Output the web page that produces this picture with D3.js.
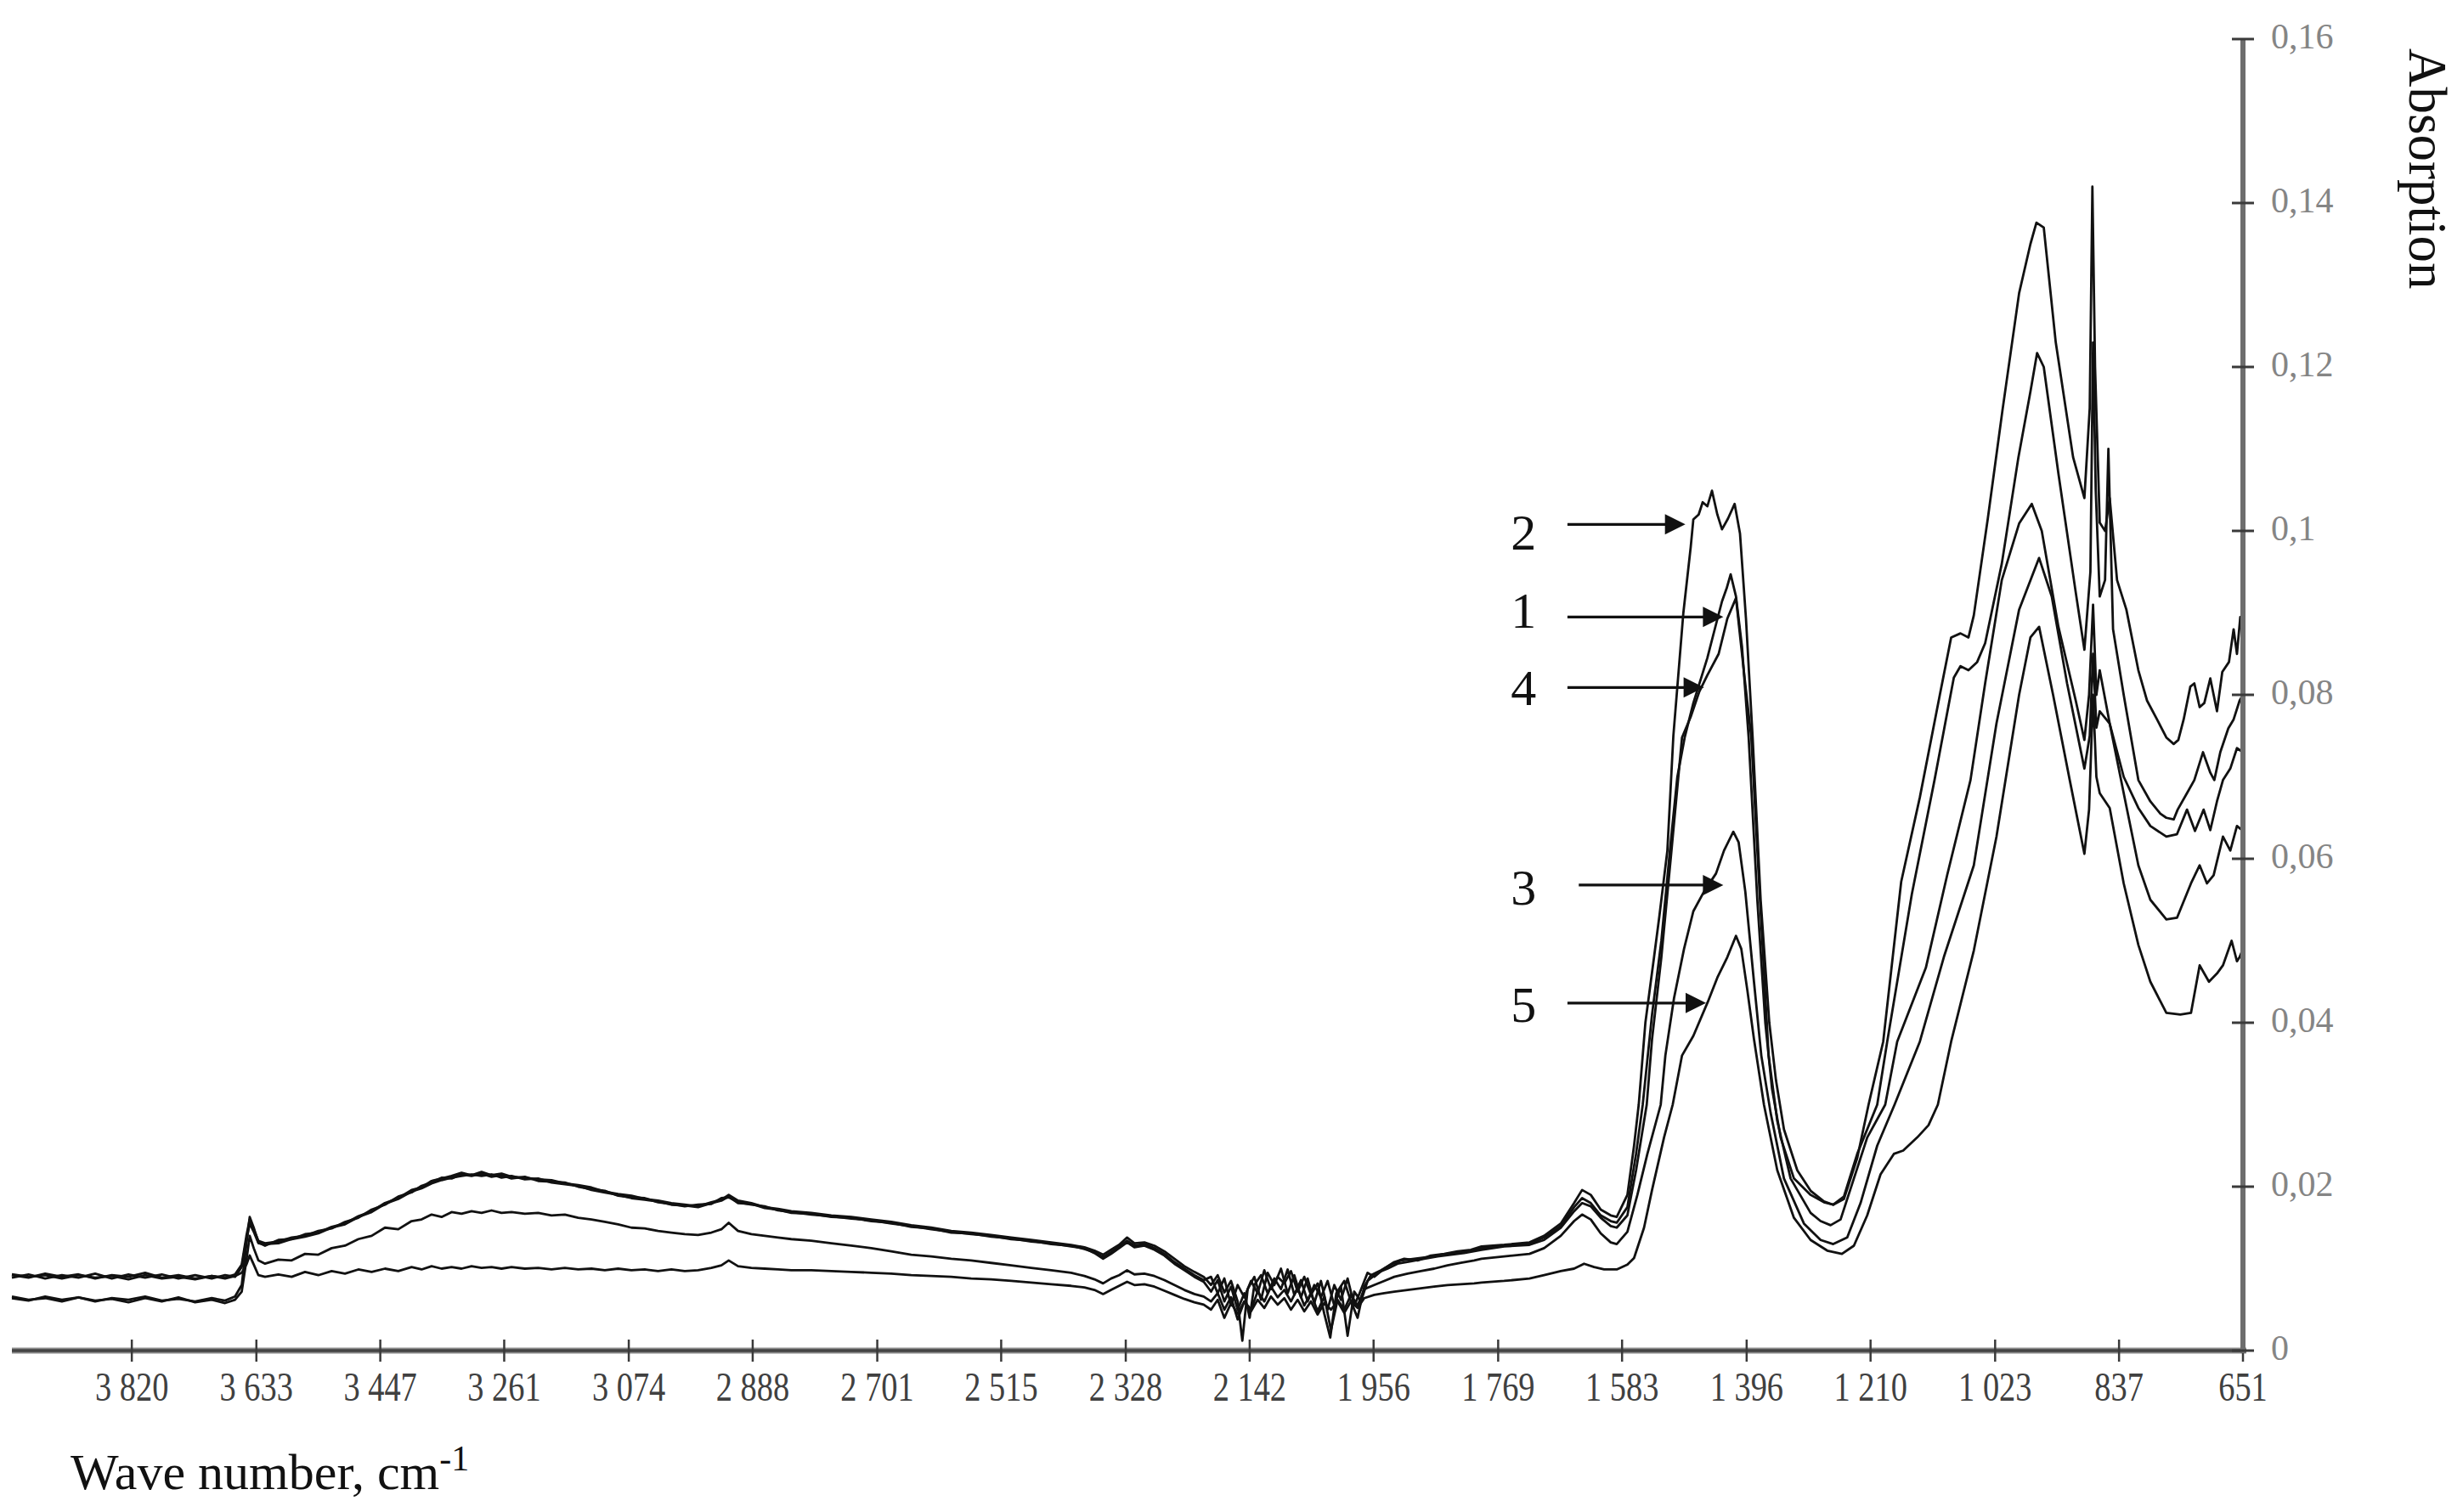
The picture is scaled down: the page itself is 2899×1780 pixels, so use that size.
<!DOCTYPE html>
<html>
<head>
<meta charset="utf-8">
<script src="https://cdn.jsdelivr.net/npm/d3@7"></script>
<style>
  html, body { margin: 0; padding: 0; background: #ffffff; }
  svg { display: block; }
  text { font-family: "Liberation Serif", "Times New Roman", serif; }
</style>
</head>
<body>
<svg id="chart" width="2899" height="1780"></svg>
<script>
// ---------------- DATA ----------------
const xTickValues = [3820, 3633, 3447, 3261, 3074, 2888, 2701, 2515, 2328, 2142, 1956, 1769, 1583, 1396, 1210, 1023, 837, 651];
const xTickLabels = ["3 820", "3 633", "3 447", "3 261", "3 074", "2 888", "2 701", "2 515", "2 328", "2 142", "1 956", "1 769", "1 583", "1 396", "1 210", "1 023", "837", "651"];
const yTickValues = [0, 0.02, 0.04, 0.06, 0.08, 0.1, 0.12, 0.14, 0.16];
const yTickLabels = ["0", "0,02", "0,04", "0,06", "0,08", "0,1", "0,12", "0,14", "0,16"];

const seriesNames = ["1", "2", "3", "4", "5"];

// [wave number cm-1, absorption]
const s1 = [[4000,0.0092],[3975,0.0089],[3950,0.0094],[3925,0.0090],[3900,0.0093],[3875,0.0088],[3850,0.0092],[3825,0.0090],[3800,0.0095],[3775,0.0089],[3750,0.0092],[3725,0.0088],[3700,0.0091],[3680,0.0089],[3665,0.0093],[3655,0.0105],[3648,0.0140],[3643,0.0160],[3637,0.0148],[3630,0.0134],[3620,0.0131],[3600,0.0133],[3580,0.0138],[3560,0.0140],[3540,0.0146],[3520,0.0149],[3500,0.0157],[3480,0.0162],[3460,0.0172],[3440,0.0178],[3420,0.0188],[3400,0.0193],[3385,0.0201],[3370,0.0205],[3355,0.0211],[3340,0.0210],[3325,0.0215],[3310,0.0213],[3295,0.0216],[3280,0.0212],[3265,0.0214],[3250,0.0210],[3230,0.0212],[3210,0.0207],[3190,0.0206],[3170,0.0205],[3150,0.0200],[3130,0.0197],[3110,0.0195],[3090,0.0189],[3070,0.0187],[3050,0.0186],[3030,0.0181],[3010,0.0179],[2990,0.0176],[2970,0.0178],[2950,0.0179],[2935,0.0186],[2924,0.0187],[2910,0.0181],[2890,0.0178],[2870,0.0176],[2850,0.0171],[2830,0.0169],[2800,0.0166],[2770,0.0164],[2740,0.0161],[2710,0.0159],[2680,0.0155],[2650,0.0152],[2620,0.0148],[2590,0.0145],[2560,0.0142],[2530,0.0140],[2500,0.0136],[2470,0.0134],[2440,0.0130],[2410,0.0128],[2390,0.0124],[2375,0.0120],[2362,0.0114],[2350,0.0120],[2338,0.0127],[2326,0.0134],[2315,0.0128],[2300,0.0130],[2285,0.0125],[2270,0.0118],[2255,0.0108],[2240,0.0100],[2225,0.0092],[2211,0.0086],[2200,0.0090],[2190,0.0070],[2180,0.0088],[2170,0.0055],[2160,0.0080],[2150,0.0065],[2140,0.0085],[2130,0.0070],[2120,0.0098],[2110,0.0075],[2100,0.0090],[2090,0.0082],[2080,0.0097],[2070,0.0072],[2060,0.0090],[2050,0.0068],[2040,0.0082],[2030,0.0045],[2021,0.0016],[2012,0.0070],[2000,0.0085],[1990,0.0060],[1980,0.0040],[1970,0.0078],[1960,0.0092],[1945,0.0098],[1930,0.0105],[1915,0.0110],[1895,0.0112],[1875,0.0114],[1855,0.0117],[1835,0.0119],[1815,0.0121],[1794,0.0125],[1760,0.0128],[1722,0.0130],[1700,0.0138],[1675,0.0152],[1655,0.0175],[1643,0.0186],[1630,0.0180],[1615,0.0165],[1600,0.0158],[1591,0.0156],[1575,0.0175],[1562,0.0240],[1552,0.0300],[1538,0.0410],[1524,0.0500],[1510,0.0620],[1500,0.0700],[1489,0.0748],[1476,0.0790],[1463,0.0824],[1455,0.0845],[1442,0.0886],[1433,0.0914],[1426,0.0930],[1420,0.0947],[1412,0.0920],[1403,0.0859],[1393,0.0748],[1380,0.0550],[1368,0.0400],[1358,0.0320],[1345,0.0260],[1325,0.0210],[1300,0.0190],[1280,0.0181],[1266,0.0178],[1250,0.0188],[1230,0.0240],[1200,0.0300],[1185,0.0377],[1148,0.0557],[1114,0.0696],[1085,0.0821],[1075,0.0835],[1063,0.0830],[1050,0.0840],[1038,0.0863],[1013,0.0960],[988,0.1090],[970,0.1170],[960,0.1217],[950,0.1200],[928,0.1070],[902,0.0925],[889,0.0855],[880,0.0950],[876,0.1230],[872,0.1050],[866,0.0920],[858,0.0940],[853,0.1100],[846,0.0880],[830,0.0800],[808,0.0696],[790,0.0670],[775,0.0655],[766,0.0650],[755,0.0648],[749,0.0660],[735,0.0680],[724,0.0696],[711,0.0730],[700,0.0705],[694,0.0696],[685,0.0730],[673,0.0759],[665,0.0770],[656,0.0793],[651,0.0800]];

const s2 = [[4000,0.0064],[3975,0.0061],[3950,0.0066],[3925,0.0062],[3900,0.0065],[3875,0.0060],[3850,0.0064],[3825,0.0062],[3800,0.0066],[3775,0.0061],[3750,0.0063],[3725,0.0060],[3700,0.0064],[3680,0.0061],[3665,0.0066],[3655,0.0080],[3648,0.0130],[3643,0.0163],[3637,0.0150],[3630,0.0132],[3620,0.0128],[3600,0.0135],[3580,0.0136],[3560,0.0142],[3540,0.0144],[3520,0.0151],[3500,0.0155],[3480,0.0164],[3460,0.0170],[3440,0.0180],[3420,0.0186],[3400,0.0196],[3385,0.0199],[3370,0.0207],[3355,0.0210],[3340,0.0213],[3325,0.0217],[3310,0.0214],[3295,0.0218],[3280,0.0214],[3265,0.0216],[3250,0.0212],[3230,0.0211],[3210,0.0209],[3190,0.0208],[3170,0.0204],[3150,0.0202],[3130,0.0199],[3110,0.0194],[3090,0.0191],[3070,0.0189],[3050,0.0185],[3030,0.0183],[3010,0.0180],[2990,0.0178],[2970,0.0176],[2950,0.0181],[2935,0.0184],[2924,0.0190],[2910,0.0183],[2890,0.0180],[2870,0.0175],[2850,0.0173],[2830,0.0170],[2800,0.0168],[2770,0.0165],[2740,0.0163],[2710,0.0160],[2680,0.0157],[2650,0.0153],[2620,0.0150],[2590,0.0146],[2560,0.0144],[2530,0.0141],[2500,0.0138],[2470,0.0135],[2440,0.0132],[2410,0.0129],[2390,0.0126],[2375,0.0122],[2362,0.0117],[2350,0.0123],[2338,0.0129],[2326,0.0138],[2315,0.0131],[2300,0.0132],[2285,0.0128],[2270,0.0121],[2255,0.0112],[2240,0.0103],[2225,0.0096],[2211,0.0090],[2200,0.0080],[2190,0.0092],[2180,0.0071],[2170,0.0085],[2160,0.0060],[2153,0.0012],[2145,0.0075],[2135,0.0090],[2125,0.0062],[2115,0.0095],[2105,0.0080],[2095,0.0100],[2085,0.0070],[2075,0.0092],[2065,0.0065],[2055,0.0088],[2045,0.0058],[2035,0.0085],[2025,0.0050],[2015,0.0080],[2005,0.0062],[1995,0.0088],[1985,0.0055],[1977,0.0070],[1965,0.0095],[1955,0.0090],[1940,0.0100],[1925,0.0108],[1910,0.0112],[1890,0.0110],[1870,0.0116],[1850,0.0118],[1830,0.0121],[1810,0.0123],[1794,0.0127],[1760,0.0129],[1722,0.0132],[1700,0.0140],[1675,0.0155],[1655,0.0180],[1643,0.0196],[1630,0.0190],[1615,0.0172],[1600,0.0165],[1591,0.0163],[1575,0.0190],[1565,0.0250],[1558,0.0300],[1548,0.0400],[1535,0.0480],[1527,0.0530],[1515,0.0610],[1506,0.0750],[1491,0.0900],[1480,0.0980],[1476,0.1014],[1468,0.1020],[1462,0.1035],[1455,0.1030],[1448,0.1049],[1440,0.1020],[1433,0.1002],[1424,0.1015],[1414,0.1033],[1406,0.0997],[1397,0.0893],[1387,0.0748],[1375,0.0550],[1362,0.0400],[1352,0.0330],[1340,0.0270],[1320,0.0220],[1300,0.0195],[1280,0.0182],[1266,0.0178],[1250,0.0185],[1230,0.0235],[1213,0.0300],[1191,0.0377],[1164,0.0572],[1136,0.0675],[1106,0.0800],[1089,0.0870],[1075,0.0875],[1063,0.0870],[1055,0.0897],[1034,0.1015],[1012,0.1147],[987,0.1290],[970,0.1350],[961,0.1376],[950,0.1370],[932,0.1230],[906,0.1090],[889,0.1040],[881,0.1150],[877,0.1420],[873,0.1200],[866,0.1010],[858,0.1000],[851,0.1040],[840,0.0940],[826,0.0904],[808,0.0830],[795,0.0793],[780,0.0770],[766,0.0748],[755,0.0740],[748,0.0745],[740,0.0770],[730,0.0810],[724,0.0814],[716,0.0785],[709,0.0790],[700,0.0820],[690,0.0780],[682,0.0828],[672,0.0840],[665,0.0880],[660,0.0850],[655,0.0895],[651,0.0870]];

const s3 = [[4000,0.0066],[3975,0.0062],[3950,0.0064],[3925,0.0060],[3900,0.0065],[3875,0.0061],[3850,0.0063],[3825,0.0059],[3800,0.0064],[3775,0.0060],[3750,0.0065],[3725,0.0059],[3700,0.0062],[3680,0.0058],[3665,0.0062],[3655,0.0072],[3648,0.0110],[3643,0.0140],[3637,0.0125],[3630,0.0110],[3620,0.0106],[3600,0.0111],[3580,0.0110],[3560,0.0118],[3540,0.0117],[3520,0.0125],[3500,0.0128],[3480,0.0136],[3460,0.0140],[3440,0.0150],[3420,0.0148],[3400,0.0158],[3385,0.0160],[3370,0.0166],[3355,0.0163],[3340,0.0169],[3325,0.0167],[3310,0.0170],[3295,0.0168],[3280,0.0171],[3265,0.0168],[3250,0.0169],[3230,0.0167],[3210,0.0168],[3190,0.0165],[3170,0.0166],[3150,0.0162],[3130,0.0160],[3110,0.0157],[3090,0.0154],[3070,0.0150],[3050,0.0149],[3030,0.0146],[3010,0.0144],[2990,0.0142],[2970,0.0141],[2950,0.0144],[2935,0.0148],[2924,0.0156],[2910,0.0146],[2890,0.0142],[2870,0.0140],[2850,0.0138],[2830,0.0136],[2800,0.0134],[2770,0.0131],[2740,0.0128],[2710,0.0125],[2680,0.0121],[2650,0.0117],[2620,0.0115],[2590,0.0112],[2560,0.0110],[2530,0.0107],[2500,0.0104],[2470,0.0101],[2440,0.0098],[2410,0.0095],[2390,0.0091],[2375,0.0087],[2362,0.0082],[2350,0.0088],[2338,0.0092],[2326,0.0098],[2315,0.0093],[2300,0.0094],[2285,0.0091],[2270,0.0086],[2255,0.0080],[2240,0.0074],[2225,0.0069],[2211,0.0066],[2200,0.0060],[2190,0.0070],[2180,0.0050],[2170,0.0065],[2160,0.0038],[2150,0.0060],[2140,0.0050],[2130,0.0072],[2120,0.0060],[2110,0.0078],[2100,0.0065],[2090,0.0074],[2080,0.0060],[2070,0.0076],[2060,0.0055],[2050,0.0070],[2040,0.0048],[2030,0.0066],[2020,0.0025],[2010,0.0062],[2000,0.0050],[1990,0.0068],[1980,0.0055],[1970,0.0075],[1955,0.0080],[1940,0.0085],[1925,0.0090],[1905,0.0094],[1885,0.0097],[1865,0.0100],[1845,0.0104],[1825,0.0107],[1805,0.0110],[1794,0.0112],[1760,0.0115],[1722,0.0118],[1700,0.0125],[1675,0.0140],[1655,0.0158],[1643,0.0166],[1630,0.0160],[1615,0.0143],[1600,0.0132],[1591,0.0130],[1575,0.0145],[1560,0.0190],[1545,0.0240],[1525,0.0300],[1518,0.0360],[1505,0.0430],[1490,0.0490],[1476,0.0536],[1460,0.0560],[1442,0.0582],[1430,0.0610],[1416,0.0633],[1408,0.0620],[1398,0.0560],[1385,0.0450],[1374,0.0360],[1360,0.0290],[1340,0.0210],[1310,0.0155],[1285,0.0135],[1266,0.0130],[1245,0.0138],[1225,0.0180],[1200,0.0250],[1174,0.0300],[1136,0.0377],[1100,0.0480],[1055,0.0592],[1021,0.0765],[987,0.0904],[957,0.0967],[938,0.0920],[915,0.0814],[889,0.0710],[881,0.0750],[876,0.0850],[871,0.0760],[866,0.0780],[851,0.0765],[830,0.0680],[808,0.0592],[790,0.0550],[766,0.0526],[750,0.0528],[729,0.0570],[716,0.0592],[705,0.0570],[695,0.0580],[681,0.0627],[670,0.0610],[660,0.0640],[651,0.0634]];

const s4 = [[4000,0.0089],[3975,0.0093],[3950,0.0088],[3925,0.0092],[3900,0.0089],[3875,0.0094],[3850,0.0088],[3825,0.0093],[3800,0.0089],[3775,0.0093],[3750,0.0088],[3725,0.0092],[3700,0.0088],[3680,0.0092],[3665,0.0090],[3655,0.0102],[3648,0.0135],[3643,0.0155],[3637,0.0145],[3630,0.0131],[3620,0.0130],[3600,0.0131],[3580,0.0136],[3560,0.0139],[3540,0.0143],[3520,0.0150],[3500,0.0154],[3480,0.0163],[3460,0.0169],[3440,0.0179],[3420,0.0185],[3400,0.0194],[3385,0.0198],[3370,0.0204],[3355,0.0208],[3340,0.0211],[3325,0.0213],[3310,0.0215],[3295,0.0213],[3280,0.0215],[3265,0.0211],[3250,0.0213],[3230,0.0209],[3210,0.0210],[3190,0.0205],[3170,0.0203],[3150,0.0201],[3130,0.0196],[3110,0.0193],[3090,0.0190],[3070,0.0186],[3050,0.0184],[3030,0.0182],[3010,0.0178],[2990,0.0177],[2970,0.0175],[2950,0.0180],[2935,0.0183],[2924,0.0188],[2910,0.0180],[2890,0.0179],[2870,0.0174],[2850,0.0172],[2830,0.0168],[2800,0.0167],[2770,0.0163],[2740,0.0162],[2710,0.0158],[2680,0.0156],[2650,0.0151],[2620,0.0149],[2590,0.0144],[2560,0.0143],[2530,0.0139],[2500,0.0137],[2470,0.0133],[2440,0.0131],[2410,0.0127],[2390,0.0125],[2375,0.0119],[2362,0.0112],[2350,0.0118],[2338,0.0125],[2326,0.0132],[2315,0.0126],[2300,0.0128],[2285,0.0123],[2270,0.0116],[2255,0.0106],[2240,0.0098],[2225,0.0090],[2211,0.0084],[2200,0.0072],[2190,0.0086],[2180,0.0060],[2170,0.0078],[2160,0.0050],[2150,0.0070],[2142,0.0040],[2135,0.0080],[2125,0.0092],[2115,0.0070],[2105,0.0088],[2095,0.0075],[2085,0.0099],[2075,0.0068],[2065,0.0086],[2055,0.0060],[2045,0.0080],[2035,0.0065],[2025,0.0085],[2015,0.0055],[2005,0.0078],[1995,0.0018],[1985,0.0072],[1975,0.0060],[1965,0.0085],[1950,0.0095],[1935,0.0100],[1920,0.0106],[1900,0.0109],[1880,0.0112],[1860,0.0115],[1840,0.0117],[1820,0.0119],[1794,0.0123],[1760,0.0127],[1722,0.0129],[1700,0.0135],[1675,0.0150],[1655,0.0170],[1643,0.0180],[1630,0.0176],[1615,0.0162],[1600,0.0152],[1591,0.0150],[1575,0.0165],[1562,0.0220],[1546,0.0300],[1538,0.0380],[1524,0.0480],[1510,0.0600],[1493,0.0748],[1480,0.0773],[1467,0.0804],[1455,0.0824],[1438,0.0850],[1425,0.0893],[1412,0.0918],[1399,0.0820],[1389,0.0748],[1376,0.0550],[1363,0.0360],[1350,0.0280],[1330,0.0210],[1300,0.0168],[1285,0.0158],[1270,0.0153],[1255,0.0160],[1235,0.0210],[1215,0.0260],[1188,0.0300],[1170,0.0377],[1127,0.0467],[1095,0.0580],[1060,0.0696],[1038,0.0814],[1013,0.0940],[987,0.1009],[968,0.1033],[953,0.1000],[928,0.0883],[902,0.0793],[889,0.0745],[882,0.0800],[876,0.0910],[871,0.0800],[866,0.0830],[851,0.0765],[830,0.0700],[808,0.0662],[790,0.0640],[766,0.0627],[750,0.0630],[735,0.0660],[723,0.0634],[710,0.0660],[700,0.0635],[690,0.0670],[681,0.0696],[670,0.0710],[660,0.0735],[651,0.0730]];

const s5 = [[4000,0.0093],[3975,0.0090],[3950,0.0092],[3925,0.0088],[3900,0.0092],[3875,0.0089],[3850,0.0091],[3825,0.0087],[3800,0.0092],[3775,0.0088],[3750,0.0090],[3725,0.0087],[3700,0.0091],[3680,0.0088],[3665,0.0091],[3655,0.0095],[3648,0.0105],[3643,0.0116],[3637,0.0105],[3630,0.0092],[3620,0.0090],[3600,0.0093],[3580,0.0090],[3560,0.0096],[3540,0.0092],[3520,0.0097],[3500,0.0094],[3480,0.0099],[3460,0.0096],[3440,0.0100],[3420,0.0097],[3400,0.0102],[3385,0.0099],[3370,0.0103],[3355,0.0100],[3340,0.0102],[3325,0.0100],[3310,0.0103],[3295,0.0101],[3280,0.0102],[3265,0.0100],[3250,0.0102],[3230,0.0100],[3210,0.0101],[3190,0.0099],[3170,0.0101],[3150,0.0099],[3130,0.0100],[3110,0.0098],[3090,0.0100],[3070,0.0098],[3050,0.0099],[3030,0.0097],[3010,0.0099],[2990,0.0097],[2970,0.0098],[2950,0.0101],[2935,0.0104],[2924,0.0110],[2910,0.0103],[2890,0.0101],[2870,0.0100],[2850,0.0099],[2830,0.0098],[2800,0.0098],[2770,0.0097],[2740,0.0096],[2710,0.0095],[2680,0.0094],[2650,0.0092],[2620,0.0091],[2590,0.0090],[2560,0.0088],[2530,0.0087],[2500,0.0085],[2470,0.0083],[2440,0.0081],[2410,0.0079],[2390,0.0077],[2375,0.0074],[2362,0.0069],[2350,0.0074],[2338,0.0079],[2326,0.0084],[2315,0.0080],[2300,0.0081],[2285,0.0078],[2270,0.0073],[2255,0.0068],[2240,0.0063],[2225,0.0059],[2211,0.0056],[2200,0.0050],[2190,0.0062],[2180,0.0040],[2170,0.0058],[2160,0.0045],[2150,0.0060],[2140,0.0048],[2130,0.0062],[2120,0.0052],[2110,0.0066],[2100,0.0056],[2090,0.0064],[2080,0.0050],[2070,0.0062],[2060,0.0048],[2050,0.0060],[2040,0.0044],[2030,0.0058],[2020,0.0050],[2010,0.0060],[2000,0.0046],[1990,0.0060],[1980,0.0052],[1970,0.0064],[1955,0.0068],[1940,0.0070],[1925,0.0072],[1905,0.0074],[1885,0.0076],[1865,0.0078],[1845,0.0080],[1825,0.0081],[1805,0.0082],[1794,0.0083],[1760,0.0085],[1722,0.0088],[1700,0.0092],[1675,0.0097],[1655,0.0100],[1640,0.0106],[1625,0.0102],[1610,0.0099],[1591,0.0099],[1575,0.0105],[1565,0.0113],[1550,0.0150],[1538,0.0196],[1520,0.0260],[1507,0.0300],[1493,0.0360],[1476,0.0384],[1454,0.0426],[1440,0.0455],[1425,0.0480],[1412,0.0506],[1404,0.0490],[1395,0.0440],[1385,0.0380],[1370,0.0300],[1350,0.0220],[1325,0.0162],[1300,0.0135],[1275,0.0122],[1253,0.0118],[1235,0.0128],[1215,0.0165],[1195,0.0215],[1175,0.0240],[1161,0.0244],[1140,0.0260],[1123,0.0275],[1109,0.0300],[1089,0.0377],[1055,0.0488],[1021,0.0627],[987,0.0800],[970,0.0870],[957,0.0883],[936,0.0800],[911,0.0696],[889,0.0606],[882,0.0660],[876,0.0800],[871,0.0700],[866,0.0680],[851,0.0662],[830,0.0570],[808,0.0495],[790,0.0450],[766,0.0412],[745,0.0410],[729,0.0412],[716,0.0470],[702,0.0450],[690,0.0460],[681,0.0470],[668,0.0500],[660,0.0475],[656,0.0480],[651,0.0490]];

// annotations (arrow labels)
const annLabels   = ["2", "1", "4", "3", "5"];
const annTipWave  = [1488, 1431, 1460, 1431, 1457];
const annTipValue = [0.1008, 0.0895, 0.0809, 0.0568, 0.0424];
const annTailWave = [1665, 1665, 1665, 1648, 1665];
const annTextWave = 1731;
const annTextValue = [0.0998, 0.0903, 0.0808, 0.0565, 0.0422];

// ---------------- CHART ----------------
const svg = d3.select("#chart");
const X0 = 14, X1 = 2640, Y0 = 1590, Y1 = 46;

const x = d3.scaleLinear().domain([4000, 651]).range([X0, X1]);
const y = d3.scaleLinear().domain([0, 0.16]).range([Y0, Y1]);

const allSeries = [s1, s2, s3, s4, s5];
const line = d3.line().x(d => x(d[0])).y(d => y(d[1]));

svg.append("g").selectAll("path")
  .data(allSeries)
  .join("path")
  .attr("d", line)
  .attr("fill", "none")
  .attr("stroke", "#111")
  .attr("stroke-width", 2.8)
  .attr("stroke-linejoin", "round");

// X axis
const xAxisG = svg.append("g");
xAxisG.append("line")
  .attr("x1", X0).attr("x2", X1 + 4).attr("y1", Y0).attr("y2", Y0)
  .attr("stroke", "#8a8a8a").attr("stroke-width", 7);
xAxisG.append("line")
  .attr("x1", X0).attr("x2", X1 + 4).attr("y1", Y0).attr("y2", Y0)
  .attr("stroke", "#444").attr("stroke-width", 3.5);
xAxisG.selectAll("line.tick")
  .data(xTickValues)
  .join("line")
  .attr("class", "tick")
  .attr("x1", d => x(d)).attr("x2", d => x(d))
  .attr("y1", Y0 - 13).attr("y2", Y0 + 13)
  .attr("stroke", "#3a3a3a").attr("stroke-width", 2.5);
xAxisG.selectAll("text.tl")
  .data(xTickValues)
  .join("text")
  .attr("class", "tl")
  .attr("transform", d => `translate(${x(d)},${Y0 + 59}) scale(0.8,1)`)
  .attr("text-anchor", "middle")
  .attr("font-size", 48)
  .attr("fill", "#404040")
  .text((d, i) => xTickLabels[i]);

// Y axis (right)
const yAxisG = svg.append("g");
yAxisG.append("line")
  .attr("x1", X1).attr("x2", X1).attr("y1", Y1).attr("y2", Y0 + 3)
  .attr("stroke", "#6e6e6e").attr("stroke-width", 6);
yAxisG.selectAll("line.tick")
  .data(yTickValues)
  .join("line")
  .attr("class", "tick")
  .attr("x1", X1 - 13).attr("x2", X1 + 13)
  .attr("y1", d => y(d)).attr("y2", d => y(d))
  .attr("stroke", "#3a3a3a").attr("stroke-width", 3);
yAxisG.selectAll("text.tl")
  .data(yTickValues)
  .join("text")
  .attr("class", "tl")
  .attr("x", X1 + 33)
  .attr("y", d => y(d) + 11)
  .attr("font-size", 42)
  .attr("fill", "#858585")
  .text((d, i) => yTickLabels[i]);

// Axis titles
const xt = svg.append("text")
  .attr("x", 83).attr("y", 1753)
  .attr("font-size", 60)
  .attr("fill", "#111");
xt.append("tspan").text("Wave number, cm");
xt.append("tspan").attr("font-size", 42).attr("dy", -22).text("-1");

svg.append("text")
  .attr("transform", "translate(2836,57) rotate(90)")
  .attr("font-size", 63)
  .attr("fill", "#111")
  .text("Absorption");

// Annotations
const annG = svg.append("g");
annLabels.forEach((lab, i) => {
  const tx = x(annTipWave[i]), ty = y(annTipValue[i]);
  const sx = x(annTailWave[i]);
  annG.append("line")
    .attr("x1", sx).attr("x2", tx - 20).attr("y1", ty).attr("y2", ty)
    .attr("stroke", "#111").attr("stroke-width", 3.2);
  annG.append("path")
    .attr("d", `M${tx},${ty} L${tx - 24},${ty - 12} L${tx - 24},${ty + 12} Z`)
    .attr("fill", "#111");
  annG.append("text")
    .attr("x", x(annTextWave)).attr("y", y(annTextValue[i]) + 20)
    .attr("text-anchor", "middle")
    .attr("font-size", 60)
    .attr("fill", "#111")
    .text(lab);
});
</script>
</body>
</html>
